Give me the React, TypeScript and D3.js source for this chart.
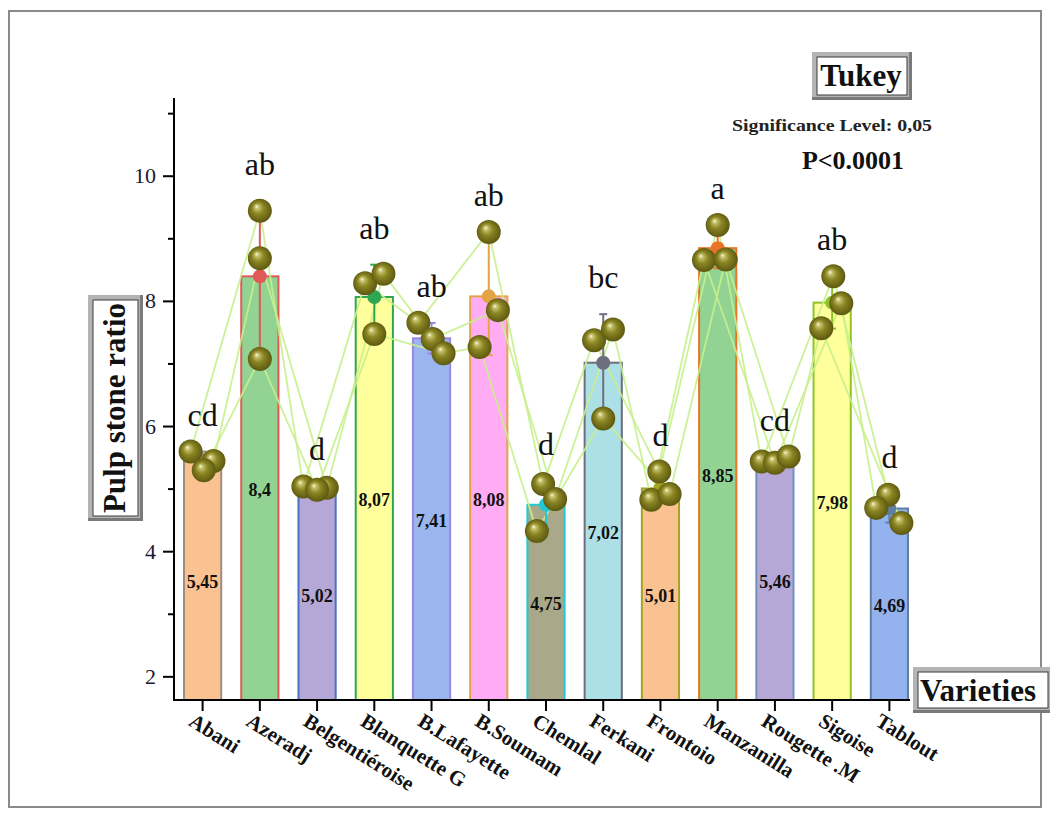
import * as d3 from "d3";

const varieties = [
  "Abani",
  "Azeradj",
  "Belgentiéroise",
  "Blanquette G",
  "B.Lafayette",
  "B.Soumam",
  "Chemlal",
  "Ferkani",
  "Frontoio",
  "Manzanilla",
  "Rougette .M",
  "Sigoise",
  "Tablout",
];
const means = [5.45, 8.4, 5.02, 8.07, 7.41, 8.08, 4.75, 7.02, 5.01, 8.85, 5.46, 7.98, 4.69];
const meanLabels = ["5,45", "8,4", "5,02", "8,07", "7,41", "8,08", "4,75", "7,02", "5,01", "8,85", "5,46", "7,98", "4,69"];
const groups = ["cd", "ab", "d", "ab", "ab", "ab", "d", "bc", "d", "a", "cd", "ab", "d"];
// three replicates per variety
const replicates = [
  [5.6, 5.45, 5.3],
  [9.45, 8.69, 7.08],
  [5.04, 5.02, 4.99],
  [8.29, 8.44, 7.48],
  [7.66, 7.4, 7.17],
  [9.11, 7.86, 7.27],
  [5.08, 4.84, 4.33],
  [7.38, 7.55, 6.13],
  [5.28, 4.83, 4.92],
  [9.22, 8.66, 8.67],
  [5.44, 5.42, 5.52],
  [8.4, 7.97, 7.57],
  [4.91, 4.7, 4.46],
];
// horizontal jitter of each replicate, in fraction of band step
const jitter = [
  [-0.21, 0.19, 0.02],
  [0, 0, 0],
  [-0.24, 0.17, 0],
  [-0.16, 0.16, 0],
  [-0.23, 0.02, 0.21],
  [0, 0.16, -0.16],
  [-0.05, 0.16, -0.16],
  [-0.16, 0.17, 0],
  [-0.02, -0.16, 0.16],
  [0, -0.24, 0.14],
  [-0.23, 0, 0.24],
  [0.02, 0.16, -0.19],
  [-0.02, -0.23, 0.21],
];
const fills = ["#fac290", "#92d394", "#b5a8d6", "#ffff9c", "#9bb6ee", "#ffacf4", "#a9a98a", "#acdfe6", "#fac290", "#92d394", "#b5a8d6", "#ffff9c", "#93b2ee"];
const edges = ["#a08c80", "#e05858", "#4a72c4", "#2ea652", "#9c86e2", "#e3a444", "#22c8d2", "#6e6e7e", "#a4a424", "#ea7426", "#7292c2", "#8ec424", "#607ea2"];
const yTicks = [2, 4, 6, 8, 10];
const yMinor = [3, 5, 7, 9, 11];

const serif = "'Liberation Serif', 'Times New Roman', serif";

const x = d3.scaleBand<string>().domain(varieties).range([174, 918]).paddingInner(0.35).paddingOuter(0.175);
const y = d3.scaleLinear().domain([1.63, 11.25]).range([700, 98]);
const step = x.step();
const cx = (i: number) => (x(varieties[i]) as number) + x.bandwidth() / 2;

const Box = ({ x0, y0, w, h }: { x0: number; y0: number; w: number; h: number }) => (
  <g>
    <rect x={x0} y={y0} width={w} height={h} fill="#7a7a7a" />
    <rect x={x0} y={y0} width={w - 3} height={h - 3} fill="#b4b4b4" />
    <rect x={x0 + 5} y={y0 + 5} width={w - 10} height={h - 10} fill="#fff" stroke="#3c3c3c" strokeWidth={1} />
  </g>
);

export default function App() {
  const lines = [0, 1, 2].map((k) =>
    d3
      .line<number[]>()
      .x((_, i) => cx(i) + jitter[i][k] * step)
      .y((d) => y(d[k]))(replicates)
  );
  const base = y.domain()[0];

  return (
    <svg width={1050} height={816} style={{ position: "absolute", left: 0, top: 0, background: "#fff" }} fontFamily={serif}>
      <defs>
        <radialGradient id="ball" cx="0.5" cy="0.5" r="0.55" fx="0.36" fy="0.32">
          <stop offset="0%" stopColor="#fbfbe6" />
          <stop offset="16%" stopColor="#c4bf6a" />
          <stop offset="45%" stopColor="#8a8522" />
          <stop offset="100%" stopColor="#56520e" />
        </radialGradient>
      </defs>
      <rect x={9} y={11} width={1032} height={796} fill="none" stroke="#8a8a8a" strokeWidth={2} />

      {/* bars */}
      {means.map((m, i) => (
        <rect
          key={varieties[i]}
          x={x(varieties[i])}
          y={y(m)}
          width={x.bandwidth()}
          height={y(base) - y(m)}
          fill={fills[i]}
          stroke={edges[i]}
          strokeWidth={2}
        />
      ))}
      {means.map((m, i) => (
        <text
          key={"v" + i}
          x={cx(i)}
          y={(y(m) + y(base)) / 2 + 8}
          textAnchor="middle"
          fontWeight="bold"
          fontSize={18}
          fill="#111"
        >
          {meanLabels[i]}
        </text>
      ))}

      {/* replicate connecting lines */}
      {lines.map((d, k) => (
        <path key={"l" + k} d={d as string} fill="none" stroke="#c8f08c" strokeWidth={1.8} opacity={0.9} />
      ))}

      {/* error bars + mean marker */}
      {means.map((m, i) => {
        const sd = d3.deviation(replicates[i]) as number;
        const c = cx(i);
        return (
          <g key={"e" + i} stroke={edges[i]} strokeWidth={2}>
            <line x1={c} x2={c} y1={y(m - sd)} y2={y(m + sd)} />
            <line x1={c - 4} x2={c + 4} y1={y(m + sd)} y2={y(m + sd)} />
            <line x1={c - 4} x2={c + 4} y1={y(m - sd)} y2={y(m - sd)} />
            <circle cx={c} cy={y(m)} r={7} fill={edges[i]} stroke="none" />
          </g>
        );
      })}

      {/* replicate points */}
      {replicates.map((reps, i) =>
        reps.map((v, k) => (
          <circle key={`p${i}-${k}`} cx={cx(i) + jitter[i][k] * step} cy={y(v)} r={12} fill="url(#ball)" />
        ))
      )}

      {/* Tukey group letters */}
      {groups.map((g, i) => {
        const sd = d3.deviation(replicates[i]) as number;
        const top = Math.max(d3.max(replicates[i]) as number, means[i] + sd);
        return (
          <text key={"g" + i} x={cx(i)} y={y(top) - 26} textAnchor="middle" fontSize={32} fill="#111">
            {g}
          </text>
        );
      })}

      {/* y axis */}
      <line x1={174} x2={174} y1={98} y2={701} stroke="#000" strokeWidth={2} />
      {yTicks.map((t) => (
        <g key={"yt" + t}>
          <line x1={163} x2={174} y1={y(t)} y2={y(t)} stroke="#000" strokeWidth={2} />
          <text x={156} y={y(t) + 7} textAnchor="end" fontSize={22} fill="#1a1a33">
            {t}
          </text>
        </g>
      ))}
      {yMinor.map((t) => (
        <line key={"ym" + t} x1={168} x2={174} y1={y(t)} y2={y(t)} stroke="#000" strokeWidth={2} />
      ))}

      {/* x axis */}
      <line x1={173} x2={910} y1={700} y2={700} stroke="#000" strokeWidth={2} />
      {varieties.map((v, i) => (
        <g key={"xt" + i}>
          <line x1={cx(i)} x2={cx(i)} y1={700} y2={711} stroke="#000" strokeWidth={2} />
          <text
            transform={`translate(${cx(i) - 7},${712}) rotate(32)`}
            dy="0.72em"
            fontSize={21}
            fontWeight="bold"
            fill="#111"
          >
            {v}
          </text>
        </g>
      ))}

      {/* axis title boxes */}
      <Box x0={88} y0={295} w={55} h={226} />
      <text
        transform={`translate(125,${408}) rotate(-90)`}
        textAnchor="middle"
        fontSize={31}
        fontWeight="bold"
        fill="#111"
      >
        Pulp stone ratio
      </text>
      <Box x0={913} y0={667} w={140} h={46} />
      <text x={978} y={701} textAnchor="middle" fontSize={31} fontWeight="bold" fill="#111">
        Varieties
      </text>

      {/* Tukey annotation */}
      <Box x0={812} y0={52} w={100} h={48} />
      <text x={861} y={86} textAnchor="middle" fontSize={31} fontWeight="bold" fill="#111">
        Tukey
      </text>
      <text x={832} y={131} textAnchor="middle" fontSize={17} fontWeight="bold" fill="#222" textLength={200} lengthAdjust="spacingAndGlyphs">
        Significance Level: 0,05
      </text>
      <text x={853} y={169} textAnchor="middle" fontSize={26} fontWeight="bold" fill="#111">
        P&lt;0.0001
      </text>
    </svg>
  );
}
